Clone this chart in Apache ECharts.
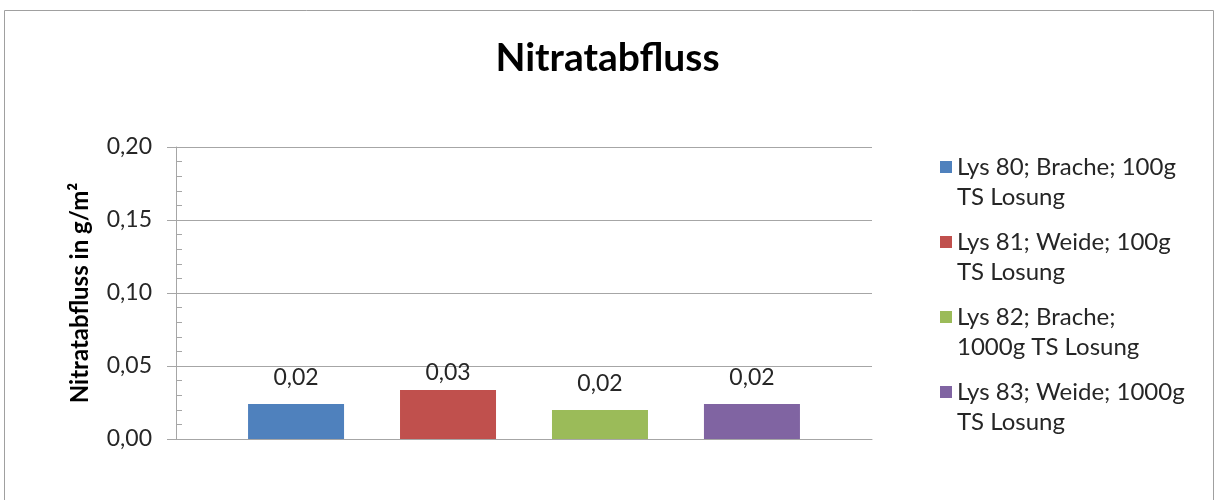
<!DOCTYPE html>
<html>
<head>
<meta charset="utf-8">
<script src="https://cdn.jsdelivr.net/npm/echarts@6/dist/echarts.min.js"></script>
<style>
html,body{margin:0;padding:0;background:#fff;}
#chart{width:1215px;height:500px;}
</style>
</head>
<body>
<div id="chart"></div>
<script>
const categories = [''];
const seriesNames = [
  'Lys 80; Brache; 100g\nTS Losung',
  'Lys 81; Weide; 100g\nTS Losung',
  'Lys 82; Brache;\n1000g TS Losung',
  'Lys 83; Weide; 1000g\nTS Losung'
];
const seriesValues = [0.024, 0.0336, 0.0199, 0.024];
const seriesColors = ['#4F81BD', '#C0504D', '#9BBB59', '#8064A2'];
const yTicks = [0, 0.05, 0.10, 0.15, 0.20];

const FONT = 'Lato';
const chart = echarts.init(document.getElementById('chart'));

const series = seriesNames.map((name, i) => ({
  name: name,
  type: 'bar',
  xAxisIndex: 0,
  yAxisIndex: 0,
  data: [seriesValues[i]],
  barWidth: 96,
  barGap: '58.3%',
  itemStyle: { color: seriesColors[i] },
  label: {
    show: true,
    position: 'top',
    distance: i === 1 ? 6 : 15,
    color: '#262626',
    fontFamily: FONT,
    fontSize: 23,
    formatter: p => p.value.toFixed(2).replace('.', ',')
  }
}));

chart.setOption({
  animation: false,
  backgroundColor: '#fff',
  textStyle: { fontFamily: FONT },
  graphic: [{
    type: 'rect',
    shape: { x: 4.5, y: 10.5, width: 1209, height: 520 },
    style: { fill: 'none', stroke: '#A0A0A0', lineWidth: 1 },
    silent: true, z: -10
  }],
  title: {
    text: 'Nitratabfluss',
    left: 'center',
    top: 34,
    textStyle: { fontFamily: FONT, fontWeight: 'bold', fontSize: 39, color: '#000' }
  },
  legend: {
    orient: 'vertical',
    left: 935,
    top: 117,
    itemWidth: 12,
    itemHeight: 12,
    itemGap: -15,
    icon: 'rect',
    data: seriesNames,
    formatter: name => '\u00A0\n' + name,
    textStyle: {
      fontFamily: FONT, fontSize: 24, color: '#262626', lineHeight: 30
    }
  },
  grid: [
    { left: 176, right: 343, top: 147, bottom: 61 },
    { left: 176, right: 343, top: 147, bottom: 61 }
  ],
  xAxis: [{
    type: 'category',
    gridIndex: 0,
    data: categories,
    axisLine: { show: true, lineStyle: { color: '#A6A6A6', width: 1 } },
    axisTick: { show: false },
    axisLabel: { show: false }
  }, {
    type: 'category',
    gridIndex: 1,
    data: categories,
    show: false
  }],
  yAxis: [{
    type: 'value',
    gridIndex: 0,
    min: 0,
    max: 0.2,
    interval: 0.05,
    name: 'Nitratabfluss in g/m²',
    nameLocation: 'middle',
    nameGap: 84,
    nameRotate: 90,
    nameTextStyle: { fontFamily: FONT, fontWeight: 'bold', fontSize: 24, color: '#000' },
    axisLine: { show: true, lineStyle: { color: '#A6A6A6', width: 1 } },
    axisTick: { show: true, length: 9, lineStyle: { color: '#A6A6A6' } },
    splitLine: { show: true, lineStyle: { color: '#A6A6A6', width: 1 } },
    axisLabel: {
      margin: 24,
      fontFamily: FONT,
      fontSize: 23,
      color: '#262626',
      formatter: v => v.toFixed(2).replace('.', ',')
    }
  }, {
    type: 'value',
    gridIndex: 1,
    min: 0,
    max: 0.2,
    interval: 0.05,
    axisLine: { show: false },
    axisTick: { show: false, inside: true },
    minorTick: { show: true, splitNumber: 5, length: 6, lineStyle: { color: '#A6A6A6' } },
    splitLine: { show: false },
    axisLabel: { show: false }
  }],
  series: series
});
</script>
</body>
</html>
